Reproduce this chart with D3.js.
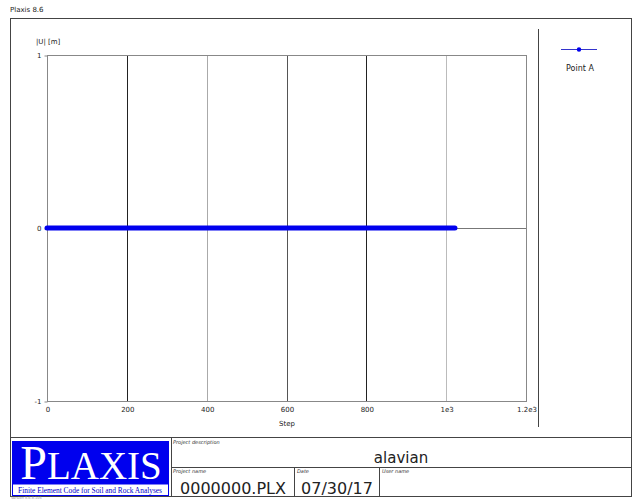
<!DOCTYPE html>
<html>
<head>
<meta charset="utf-8">
<script src="https://cdn.jsdelivr.net/npm/d3@7"></script>
<style>
  html, body { margin: 0; padding: 0; background: #fff; }
  svg { display: block; font-family: "DejaVu Sans", Tahoma, sans-serif; }
</style>
</head>
<body>
<script>
// Curve data for Point A: calculation step vs. total displacement |U|
const steps = [0, 100, 200, 300, 400, 500, 600, 700, 800, 900, 1000, 1022];
const displacement = [0, 0, 0, 0, 0, 0, 0, 0, 0, 0, 0, 0];
const xTicks = [0, 200, 400, 600, 800, 1000, 1200];
const xTickLabels = ["0", "200", "400", "600", "800", "1e3", "1.2e3"];
const yTicks = [-1, 0, 1];
const yTickLabels = ["-1", "0", "1"];
const seriesName = "Point A";

const W = 634, H = 499;
const SERIF = '"Liberation Serif", "Times New Roman", serif';
const svg = d3.select("body").append("svg").attr("width", W).attr("height", H);

// Page header and outer frame
svg.append("text").attr("x", 10).attr("y", 12).attr("font-size", 7).attr("fill", "#222").text("Plaxis 8.6");
svg.append("rect").attr("x", 10.5).attr("y", 18.5).attr("width", 621).attr("height", 478)
  .attr("fill", "none").attr("stroke", "#444").attr("stroke-width", 1);

// Plot area
const plot = { left: 47, right: 526, top: 55, bottom: 401 };
const x = d3.scaleLinear().domain([0, 1200]).range([plot.left, plot.right]);
const y = d3.scaleLinear().domain([-1, 1]).range([plot.bottom, plot.top]);

const g = svg.append("g");

// Vertical grid lines
g.selectAll("line.vgrid").data(xTicks.slice(1, -1)).enter().append("line")
  .attr("x1", d => Math.round(x(d)) + 0.5).attr("x2", d => Math.round(x(d)) + 0.5)
  .attr("y1", plot.top).attr("y2", plot.bottom)
  .attr("stroke", (d, i) => ["#222", "#aaa", "#555", "#222", "#bbb"][i]).attr("stroke-width", 1);

// Zero line
g.append("line").attr("x1", plot.left).attr("x2", plot.right)
  .attr("y1", Math.round(y(0)) + 0.5).attr("y2", Math.round(y(0)) + 0.5)
  .attr("stroke", "#777");

// Plot frame
g.append("rect").attr("x", plot.left + 0.5).attr("y", plot.top + 0.5)
  .attr("width", plot.right - plot.left).attr("height", plot.bottom - plot.top)
  .attr("fill", "none").attr("stroke", "#888");

// Axes
const yAxis = d3.axisLeft(y).tickValues(yTicks).tickSize(3).tickFormat((d, i) => yTickLabels[i]);
const yg = svg.append("g").attr("transform", `translate(${plot.left + 0.5},0.5)`).call(yAxis);
yg.select(".domain").remove();
yg.selectAll(".tick line").attr("stroke", "#888");
yg.selectAll(".tick text").attr("font-size", 7).attr("fill", "#222");

const xAxis = d3.axisBottom(x).tickValues(xTicks).tickSize(0).tickPadding(6)
  .tickFormat((d, i) => xTickLabels[i]);
const xg = svg.append("g").attr("transform", `translate(0.5,${plot.bottom + 0.5})`).call(xAxis);
xg.select(".domain").remove();
xg.selectAll(".tick text").attr("font-size", 7).attr("fill", "#222");
yg.attr("font-family", null);
xg.attr("font-family", null);

svg.append("text").attr("x", 287).attr("y", 426).attr("text-anchor", "middle")
  .attr("font-size", 7).attr("fill", "#222").text("Step");
svg.append("text").attr("x", 36).attr("y", 44)
  .attr("font-size", 7).attr("fill", "#222").text("|U| [m]");

// Series
const pts = steps.map((s, i) => [s, displacement[i]]);
const line = d3.line().x(d => x(d[0])).y(d => y(d[1]));
svg.append("path").datum(pts).attr("d", line)
  .attr("fill", "none").attr("stroke", "#0000ee").attr("stroke-width", 5)
  .attr("stroke-linecap", "round");

// Legend panel
svg.append("line").attr("x1", 538.5).attr("x2", 538.5).attr("y1", 29).attr("y2", 427)
  .attr("stroke", "#444");
svg.append("line").attr("x1", 561).attr("x2", 597).attr("y1", 49.5).attr("y2", 49.5)
  .attr("stroke", "#3333cc");
svg.append("circle").attr("cx", 579).attr("cy", 49.5).attr("r", 2.2).attr("fill", "#0000ee");
svg.append("text").attr("x", 580).attr("y", 71).attr("text-anchor", "middle")
  .attr("font-size", 8).attr("fill", "#222").text(seriesName);

// Title block
const tb = svg.append("g");
tb.append("line").attr("x1", 10).attr("x2", 632).attr("y1", 437.5).attr("y2", 437.5).attr("stroke", "#444");
tb.append("line").attr("x1", 171.5).attr("x2", 171.5).attr("y1", 437).attr("y2", 497).attr("stroke", "#444");
tb.append("line").attr("x1", 171).attr("x2", 632).attr("y1", 467.5).attr("y2", 467.5).attr("stroke", "#444");
tb.append("line").attr("x1", 294.5).attr("x2", 294.5).attr("y1", 467).attr("y2", 497).attr("stroke", "#444");
tb.append("line").attr("x1", 379.5).attr("x2", 379.5).attr("y1", 467).attr("y2", 497).attr("stroke", "#444");

// Logo
tb.append("rect").attr("x", 12).attr("y", 441).attr("width", 157).attr("height", 55).attr("fill", "#0000ee");
tb.append("rect").attr("x", 13).attr("y", 484.5).attr("width", 155).attr("height", 10.5).attr("fill", "#fff");
const logo = tb.append("text").attr("x", 91).attr("y", 479).attr("text-anchor", "middle")
  .attr("fill", "#fff").style("font-family", SERIF);
logo.append("tspan").attr("font-size", 48).text("P");
logo.append("tspan").attr("font-size", 39).text("LAXIS");
tb.append("text").attr("x", 90).attr("y", 493).attr("text-anchor", "middle")
  .style("font-family", SERIF).attr("font-size", 7.4)
  .attr("fill", "#0000cc").text("Finite Element Code for Soil and Rock Analyses");

const small = (xx, yy, t) => tb.append("text").attr("x", xx).attr("y", yy)
  .attr("font-size", 5).attr("font-style", "italic").attr("fill", "#333").text(t);
small(173, 444, "Project description");
small(173, 473, "Project name");
small(297, 473, "Date");
small(382, 473, "User name");

tb.append("text").attr("x", 401).attr("y", 463).attr("text-anchor", "middle")
  .attr("font-size", 15).attr("fill", "#222").text("alavian");
tb.append("text").attr("x", 233).attr("y", 494).attr("text-anchor", "middle")
  .attr("font-size", 16).attr("fill", "#222").text("0000000.PLX");
tb.append("text").attr("x", 337).attr("y", 494).attr("text-anchor", "middle")
  .attr("font-size", 16).attr("fill", "#222").text("07/30/17");
svg.append("text").attr("x", 11).attr("y", 498.5).attr("font-size", 3.5).attr("fill", "#999").text("Version 8.6.8.105");
</script>
</body>
</html>
